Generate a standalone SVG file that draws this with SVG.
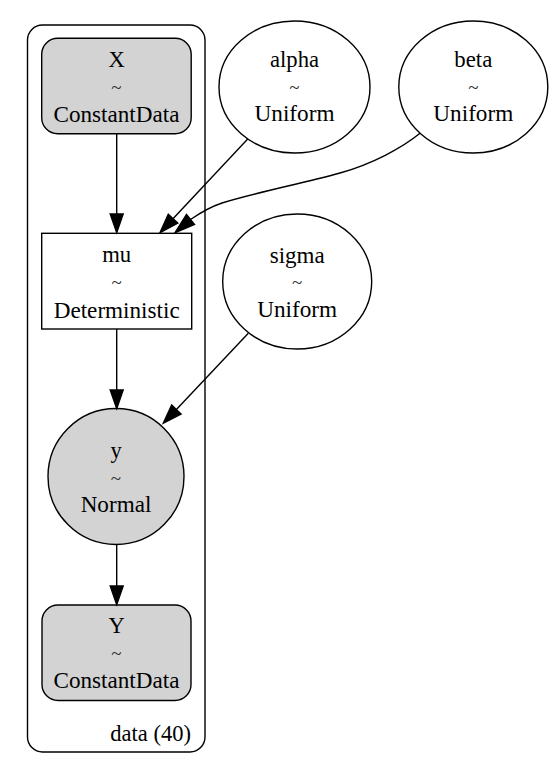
<svg xmlns="http://www.w3.org/2000/svg" width="556" height="768" viewBox="0 0 556 768">
<style>
text{font-family:"Liberation Serif","Times New Roman",serif;font-size:22.5px;fill:#000;text-anchor:middle}
.t{font-size:19px;fill:#333}
.sh{stroke:#000;stroke-width:1.4;}
.g{fill:#d3d3d3}
.w{fill:#fff}
.e{fill:none;stroke:#000;stroke-width:1.4}
.ah{fill:#000;stroke:#000;stroke-width:1.4}
</style>
<rect width="556" height="768" fill="#fff"/>
<g id="cluster_data">
<rect x="27.5" y="25" width="177.5" height="727" rx="15" ry="15" fill="none" stroke="#000" stroke-width="1.4"/>
<text x="191" y="740.7" style="text-anchor:end" textLength="80.7" lengthAdjust="spacingAndGlyphs">data (40)</text>
</g>
<g id="node_X">
<rect class="sh g" x="41.7" y="38.3" width="149.5" height="95.5" rx="16" ry="16"/>
<text x="116.5" y="66.7">X</text>
<text class="t" x="116.5" y="93.5">~</text>
<text x="116.5" y="121.7" textLength="126" lengthAdjust="spacingAndGlyphs">ConstantData</text>
</g>
<g id="node_alpha">
<ellipse class="sh w" cx="294.5" cy="87" rx="75.5" ry="66"/>
<text x="294.5" y="66.7" textLength="49" lengthAdjust="spacingAndGlyphs">alpha</text>
<text class="t" x="294.5" y="93.5">~</text>
<text x="294.5" y="121" textLength="80" lengthAdjust="spacingAndGlyphs">Uniform</text>
</g>
<g id="node_beta">
<ellipse class="sh w" cx="473.3" cy="87" rx="74.5" ry="66"/>
<text x="473.3" y="66.7" textLength="38" lengthAdjust="spacingAndGlyphs">beta</text>
<text class="t" x="473.3" y="93.5">~</text>
<text x="473.3" y="121" textLength="80" lengthAdjust="spacingAndGlyphs">Uniform</text>
</g>
<g id="node_mu">
<rect class="sh w" x="41.7" y="233.3" width="150" height="95.7"/>
<text x="116.7" y="261.7" textLength="29" lengthAdjust="spacingAndGlyphs">mu</text>
<text class="t" x="116.7" y="289">~</text>
<text x="116.7" y="317.5" textLength="126" lengthAdjust="spacingAndGlyphs">Deterministic</text>
</g>
<g id="node_sigma">
<ellipse class="sh w" cx="297.2" cy="281.5" rx="74.5" ry="67.5"/>
<text x="297.2" y="262.5" textLength="55" lengthAdjust="spacingAndGlyphs">sigma</text>
<text class="t" x="297.2" y="289">~</text>
<text x="297.2" y="317" textLength="80" lengthAdjust="spacingAndGlyphs">Uniform</text>
</g>
<g id="node_y">
<ellipse class="sh g" cx="116" cy="476.5" rx="68" ry="68"/>
<text x="116" y="457.8">y</text>
<text class="t" x="116" y="484.5">~</text>
<text x="116" y="511.7" textLength="70.7" lengthAdjust="spacingAndGlyphs">Normal</text>
</g>
<g id="node_Y">
<rect class="sh g" x="42" y="605" width="149" height="95.5" rx="16" ry="16"/>
<text x="116.5" y="633.3">Y</text>
<text class="t" x="116.5" y="660.3">~</text>
<text x="116.5" y="688.3" textLength="126" lengthAdjust="spacingAndGlyphs">ConstantData</text>
</g>
<g id="edges">
<path class="e" d="M116.7,133.8 L116.7,214"/>
<polygon class="ah" points="110.2,214 123.2,214 116.7,232.7"/>
<path class="e" d="M247.7,139 L173,218.8"/>
<polygon class="ah" points="168.3,214.3 177.8,223.2 160,232.7"/>
<path class="e" d="M420,133.3 C402,148 372,164 340,173 C300,184 258,192 222,203 C210,207 200,213 190.5,219.5"/>
<polygon class="ah" points="186.5,214.5 194.5,224.5 175,232.7"/>
<path class="e" d="M116.7,329 L116.7,390"/>
<polygon class="ah" points="110.2,390 123.2,390 116.7,408.7"/>
<path class="e" d="M248.3,333.3 L176.4,409.5"/>
<polygon class="ah" points="171.7,405 181.1,414 163.3,423.3"/>
<path class="e" d="M116.7,544.5 L116.7,586"/>
<polygon class="ah" points="110.2,586 123.2,586 116.7,604.7"/>
</g>
</svg>
